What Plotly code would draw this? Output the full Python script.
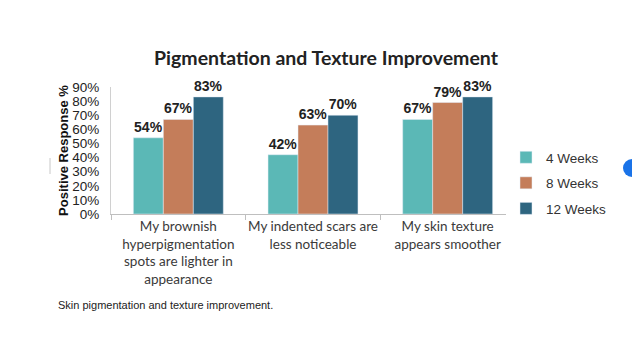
import plotly.graph_objects as go

categories = ["My brownish<br>hyperpigmentation<br>spots are lighter in<br>appearance",
              "My indented scars are<br>less noticeable",
              "My skin texture<br>appears smoother"]
series_names = ["4 Weeks", "8 Weeks", "12 Weeks"]
values_4w = [54, 42, 67]
values_8w = [67, 63, 79]
values_12w = [83, 70, 83]
colors = ["#5BB8B6", "#C47D5A", "#2E6580"]
y_ticks = [0, 10, 20, 30, 40, 50, 60, 70, 80, 90]

W, H = 632, 364
L, R, T, B = 111, 117, 87, 150
PW, PH = W - L - R, H - T - B


def px_x(x):
    return (x - L) / PW


def px_y(y):
    return (H - B - y) / PH


fig = go.Figure()
for name, vals, col in zip(series_names, [values_4w, values_8w, values_12w], colors):
    fig.add_trace(go.Bar(
        x=categories, y=vals, name=name, marker_color=col, legendgroup=name,
        text=[f"{v}%" for v in vals], textposition="outside",
        textfont=dict(family="Liberation Sans", size=14, color="#222", weight="bold"),
        cliponaxis=False,
    ))

fig.update_layout(
    width=W, height=H,
    margin=dict(l=L, r=R, t=T, b=B),
    paper_bgcolor="white", plot_bgcolor="white",
    barmode="group", bargap=0.332, bargroupgap=0,
    title=dict(text="<b>Pigmentation and Texture Improvement</b>",
               font=dict(family="Lato", size=19.5, color="#222"),
               x=326 / W, xanchor="center", y=1 - 58 / H, yanchor="middle"),
    showlegend=True,
    legend=dict(x=px_x(506), y=px_y(183), xanchor="left", yanchor="middle",
                font=dict(family="Liberation Sans", size=13.5, color="#333"),
                tracegroupgap=5, itemwidth=30, traceorder="grouped"),
    xaxis=dict(showline=True, linecolor="#bfbfbf", linewidth=1,
               ticks="outside", tickson="boundaries", ticklen=5, tickcolor="#bfbfbf",
               tickangle=0, automargin=False,
               tickfont=dict(family="Lato", size=13.5, color="#3a3a3a")),
    yaxis=dict(range=[0, 90], tickvals=y_ticks, ticktext=[f"{v}%" for v in y_ticks],
               showline=True, linecolor="#d0d0d0", linewidth=1, showgrid=False,
               zeroline=False, automargin=False, ticklabelstandoff=8,
               tickfont=dict(family="Liberation Sans", size=13.5, color="#222"),
               title=dict(text="<b>Positive Response %</b>", standoff=0,
                          font=dict(family="Liberation Sans", size=13, color="#111"))),
)

fig.add_annotation(text="Skin pigmentation and texture improvement.",
                   xref="paper", yref="paper",
                   x=px_x(56), y=px_y(305),
                   xanchor="left", yanchor="middle", showarrow=False,
                   font=dict(family="Liberation Sans", size=11, color="#222"))

# small decorative marks seen at the picture edges
fig.add_shape(type="circle", xref="paper", yref="paper",
              x0=px_x(623), x1=px_x(641), y0=px_y(177), y1=px_y(159),
              fillcolor="#1a73e8", line=dict(width=0))
fig.add_shape(type="line", xref="paper", yref="paper",
              x0=px_x(50), x1=px_x(50), y0=px_y(158), y1=px_y(174),
              line=dict(color="#c8c8c8", width=1))

fig.write_html("out.html", config={"displayModeBar": False},
               post_script="document.body.style.margin='0';document.body.style.overflow='hidden';")
